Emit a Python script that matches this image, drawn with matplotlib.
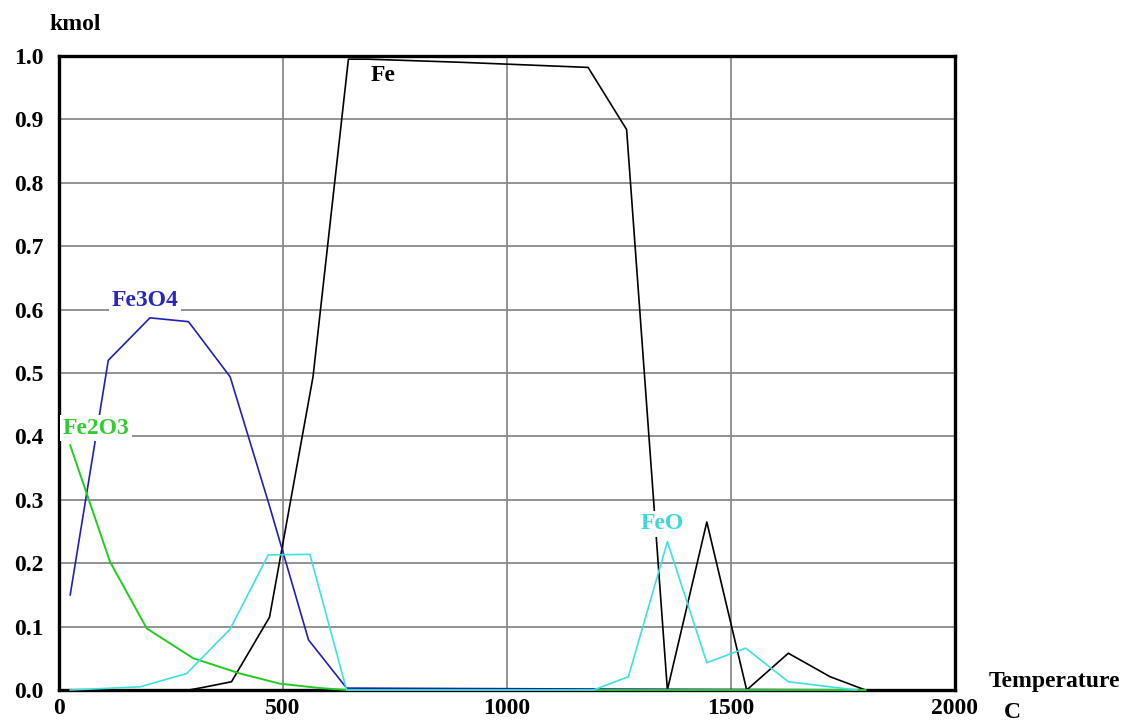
import matplotlib
matplotlib.use("Agg")
import matplotlib.pyplot as plt

# ---- data ----
t_fe = [25, 290, 321, 385, 470, 567, 646, 690, 900, 1181, 1267, 1358, 1446, 1535, 1628, 1721, 1800]
fe = [0.0, 0.0, 0.004, 0.013, 0.115, 0.494, 0.995, 0.995, 0.99, 0.982, 0.884, 0.0, 0.265, 0.0, 0.058, 0.021, 0.0]

t_fe3o4 = [25, 110, 203, 289, 382, 470, 557, 642, 1800]
fe3o4 = [0.15, 0.52, 0.587, 0.581, 0.494, 0.29, 0.079, 0.003, 0.0]

t_fe2o3 = [25, 114, 196, 300, 404, 493, 583, 645, 1193, 1800]
fe2o3 = [0.386, 0.202, 0.097, 0.05, 0.026, 0.01, 0.003, 0.0, 0.0, 0.0]

t_feo = [25, 181, 285, 382, 467, 560, 642, 1193, 1271, 1358, 1446, 1533, 1628, 1780]
feo = [0.0, 0.005, 0.026, 0.096, 0.213, 0.214, 0.0, 0.0, 0.021, 0.234, 0.043, 0.066, 0.013, 0.0]

x_ticks = [0, 500, 1000, 1500, 2000]
y_ticks = [0.0, 0.1, 0.2, 0.3, 0.4, 0.5, 0.6, 0.7, 0.8, 0.9, 1.0]

labels = {
    "Fe": (723, 0.97, "black"),
    "Fe3O4": (192, 0.615, "#2626c4"),
    "Fe2O3": (82, 0.413, "#33cc33"),
    "FeO": (1346, 0.262, "#3fd8d8"),
}

colors = {"Fe": "black", "Fe3O4": "#2020b8", "Fe2O3": "#22cc22", "FeO": "#40e0e0"}

font = ["Liberation Serif", "DejaVu Serif"]
plt.rcParams["font.family"] = font
plt.rcParams["font.weight"] = "bold"

fig = plt.figure(figsize=(11.21, 7.24), dpi=100)
ax = fig.add_axes([59 / 1121, 1 - 690 / 724, (955 - 59) / 1121, (690 - 56) / 724])

ax.set_xlim(0, 2000)
ax.set_ylim(0, 1.0)
ax.set_xticks(x_ticks)
ax.set_yticks(y_ticks)
ax.set_xticklabels([str(v) for v in x_ticks])
ax.set_yticklabels([f"{v:.1f}" for v in y_ticks])
ax.tick_params(axis="x", length=0, labelsize=17, pad=6)
ax.tick_params(axis="y", length=0, labelsize=17, pad=11)
for lab in ax.get_xticklabels() + ax.get_yticklabels():
    lab.set_fontweight("bold")
ax.grid(True, color="#8a8a8a", linewidth=1.3)
ax.set_axisbelow(True)
for sp in ax.spines.values():
    sp.set_linewidth(2.4)
    sp.set_color("black")

ax.plot(t_fe, fe, color=colors["Fe"], lw=1.2, zorder=3, clip_on=False)
ax.plot(t_fe3o4, fe3o4, color=colors["Fe3O4"], lw=1.2, zorder=3, clip_on=False)
ax.plot(t_fe2o3, fe2o3, color=colors["Fe2O3"], lw=1.4, zorder=3, clip_on=False)
ax.plot(t_feo, feo, color=colors["FeO"], lw=1.2, zorder=3, clip_on=False)

for name, (lx, ly, c) in labels.items():
    ax.text(lx, ly, name, color=c, fontsize=17, fontweight="bold", ha="center", va="center",
            zorder=5, bbox=dict(facecolor="white", edgecolor="none", pad=2))

fig.text(75 / 1121, 1 - 25 / 724, "kmol", fontsize=17, fontweight="bold", ha="center", va="center")
fig.text(1054 / 1121, 1 - 681 / 724, "Temperature", fontsize=17, fontweight="bold", ha="center", va="center")
fig.text(1012 / 1121, 1 - 713 / 724, "C", fontsize=17, fontweight="bold", ha="center", va="center")

fig.savefig("out.png", dpi=100, facecolor="white")
